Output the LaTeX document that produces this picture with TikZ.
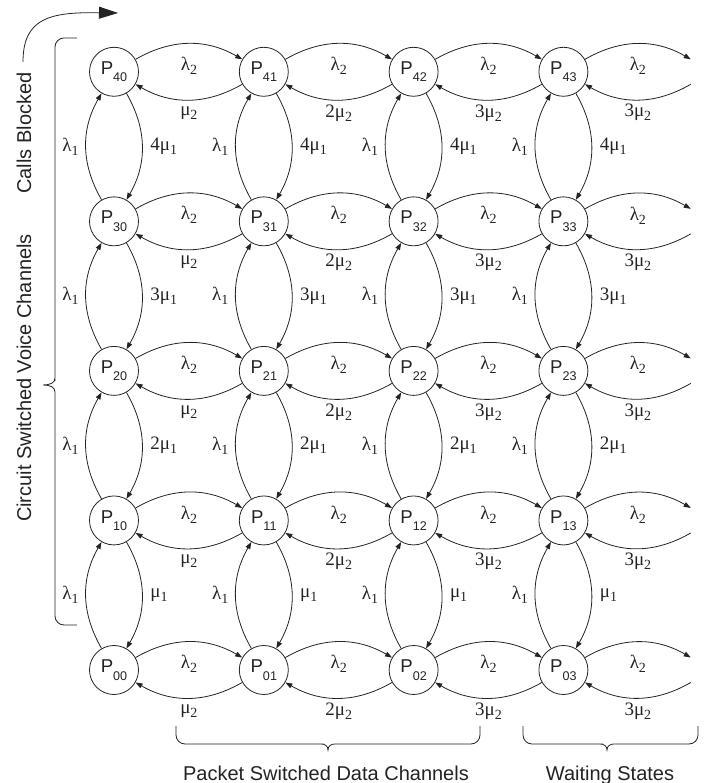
\documentclass[tikz,border=0pt]{standalone}
\usepackage{fontspec}
\setmainfont{Liberation Sans}
\newfontfamily\ratefont{Liberation Serif}
\usetikzlibrary{arrows.meta,positioning,calc}
\definecolor{markovInk}{RGB}{35,35,35}
\newcommand{\pstate}[1]{\fontsize{18.6pt}{18.6pt}\selectfont P\raisebox{-7.4pt}{\fontsize{12.6pt}{12.6pt}\selectfont #1}}
\newcommand{\rate}[3]{{\ratefont\fontsize{19pt}{19pt}\selectfont #1#2\raisebox{-4pt}{\fontsize{14pt}{14pt}\selectfont #3}}}

\begin{document}
\begin{tikzpicture}[
  x=1pt, y=1pt,
  color=markovInk,
  state/.style={
    draw,
    circle,
    minimum size=49pt,
    inner sep=0pt,
    line width=0.8pt
  },
  arrow/.style={-{Triangle[length=7pt,width=5pt]},line width=0.8pt,bend left=30},
  bigarrow/.style={-{Triangle[length=19pt,width=12pt]},line width=0.8pt},
  lamtwo/.style={midway,yshift=-22pt,inner sep=0pt},
  mutwo/.style={midway,yshift=-13pt,inner sep=0pt},
  lamone/.style={midway,anchor=east,xshift=-7pt,inner sep=0pt},
  muone/.style={midway,anchor=west,xshift=8pt,inner sep=0pt},
  caption/.style={font=\fontsize{20pt}{20pt}\selectfont,inner sep=0pt},
  brace/.style={line width=0.8pt,rounded corners=9pt}
]
  \useasboundingbox (-114,-113) rectangle (599,670);
  % states
  \node[state] (P00) at (0,0) {\pstate{00}};
  \node[state,right=100pt of P00] (P01) {\pstate{01}};
  \node[state,right=100pt of P01] (P02) {\pstate{02}};
  \node[state,right=100pt of P02] (P03) {\pstate{03}};
  \node[state,above=99.75pt of P00] (P10) {\pstate{10}};
  \node[state,right=100pt of P10] (P11) {\pstate{11}};
  \node[state,right=100pt of P11] (P12) {\pstate{12}};
  \node[state,right=100pt of P12] (P13) {\pstate{13}};
  \node[state,above=99.75pt of P10] (P20) {\pstate{20}};
  \node[state,right=100pt of P20] (P21) {\pstate{21}};
  \node[state,right=100pt of P21] (P22) {\pstate{22}};
  \node[state,right=100pt of P22] (P23) {\pstate{23}};
  \node[state,above=99.75pt of P20] (P30) {\pstate{30}};
  \node[state,right=100pt of P30] (P31) {\pstate{31}};
  \node[state,right=100pt of P31] (P32) {\pstate{32}};
  \node[state,right=100pt of P32] (P33) {\pstate{33}};
  \node[state,above=99.75pt of P30] (P40) {\pstate{40}};
  \node[state,right=100pt of P40] (P41) {\pstate{41}};
  \node[state,right=100pt of P41] (P42) {\pstate{42}};
  \node[state,right=100pt of P42] (P43) {\pstate{43}};

  % packet transitions
  \foreach \r in {0,...,4} {
    \foreach \c/\n/\k in {0/1/{},1/2/2,2/3/3} {
      \draw[arrow] (P\r\c.30) to node[lamtwo] {\rate{}{λ}{2}} (P\r\n.150);
      \draw[arrow] (P\r\n.210) to node[mutwo] {\rate{\k}{μ}{2}} (P\r\c.330);
    }
    \coordinate (out\r) at ($(P\r3)+(127.35,12.5)$);
    \coordinate (in\r) at ($(P\r3)+(127.35,-12.5)$);
    \draw[arrow] (P\r3.30) to node[lamtwo] {\rate{}{λ}{2}} (out\r);
    \draw[arrow] (in\r) to node[mutwo] {\rate{3}{μ}{2}} (P\r3.330);
  }

  % voice transitions
  \foreach \c in {0,...,3} {
    \foreach \r/\u/\k in {0/1/{},1/2/2,2/3/3,3/4/4} {
      \draw[arrow] (P\r\c.120) to node[lamone] {\rate{}{λ}{1}} (P\u\c.240);
      \draw[arrow] (P\u\c.300) to node[muone] {\rate{\k}{μ}{1}} (P\r\c.60);
    }
  }

  % braces and captions
  \draw[brace] (-37,632) -- (-59,632) -- (-59,298) [sharp corners] -- (-59,292)
    .. controls (-59,287) and (-64,285) .. (-71,285)
    .. controls (-64,285) and (-59,283) .. (-59,278) -- (-59,272) [rounded corners=9pt]
    -- (-59,45) -- (-37,45);
  \draw[brace] (62,-56) -- (62,-74) -- (201,-74) [sharp corners] -- (207,-74)
    .. controls (211,-74) and (214,-76) .. (214,-80)
    .. controls (214,-76) and (217,-74) .. (221,-74) -- (227,-74) [rounded corners=9pt]
    -- (366,-74) -- (366,-56);
  \draw[brace] (409,-56) -- (409,-74) -- (480,-74) [sharp corners] -- (486,-74)
    .. controls (490,-74) and (493,-76) .. (493,-80)
    .. controls (493,-76) and (496,-74) .. (500,-74) -- (506,-74) [rounded corners=9pt]
    -- (584,-74) -- (584,-56);
  \node[caption,rotate=90] (blocked) at (-90,537) {Calls Blocked};
  \node[caption,rotate=90] (voice) at (-90,292) {Circuit Switched Voice Channels};
  \node[caption,anchor=base] (packet) at (212,-110) {Packet Switched Data Channels};
  \node[caption,anchor=base] (waiting) at (496,-110) {Waiting States};
  \coordinate (blk0) at (-91,608);
  \coordinate (blk1) at (4,657);
  \draw[bigarrow] (blk0) .. controls (-91,652) and (-64,658) .. (blk1);
\end{tikzpicture}
\end{document}
